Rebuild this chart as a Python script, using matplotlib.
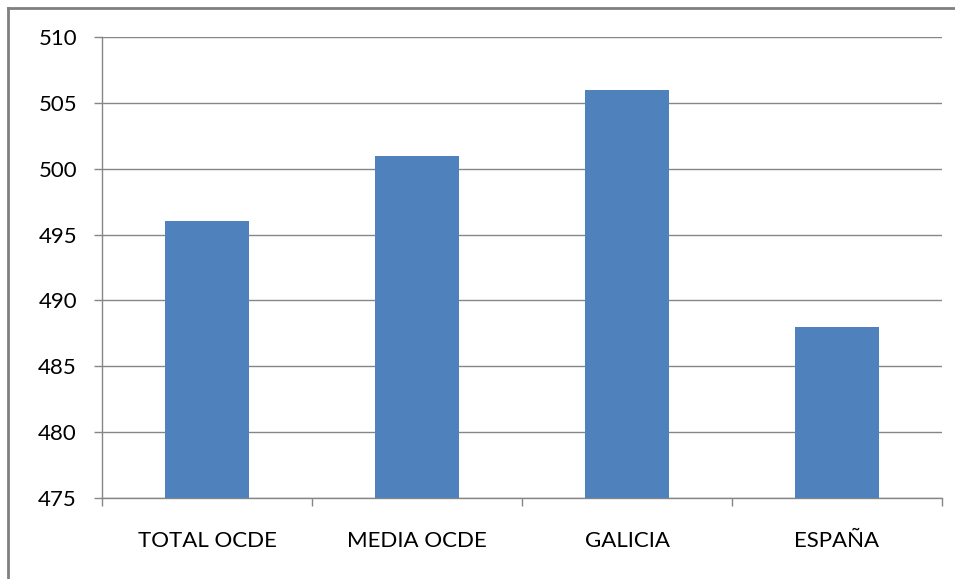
import matplotlib
matplotlib.use("Agg")
import matplotlib.pyplot as plt
from matplotlib.lines import Line2D

categories = ["TOTAL OCDE", "MEDIA OCDE", "GALICIA", "ESPAÑA"]
values = [496, 501, 506, 488]
yticks = [475, 480, 485, 490, 495, 500, 505, 510]

plt.rcParams['font.family'] = ['Lato', 'DejaVu Sans']

W, H = 955, 579
fig = plt.figure(figsize=(W / 100, H / 100), dpi=100)
ax = fig.add_axes([102 / W, 1 - 498 / H, (942 - 102) / W, (498 - 37) / H])

bar_color = "#4F81BD"
grid_color = "#868686"

x = list(range(len(categories)))
ax.bar(x, [v - 475 for v in values], bottom=475, width=0.4, color=bar_color, zorder=3)

ax.set_xlim(-0.5, len(categories) - 0.5)
ax.set_ylim(475, 510)
ax.set_yticks(yticks)
ax.set_yticklabels([str(t) for t in yticks], fontsize=16)
ax.yaxis.grid(True, color=grid_color, linewidth=1)
ax.set_axisbelow(True)

ax.set_xticks([i - 0.5 for i in range(len(categories) + 1)])
ax.set_xticklabels([])
ax.set_xticks(x, minor=True)
ax.set_xticklabels(categories, minor=True, fontsize=16)
ax.tick_params(axis='x', which='minor', length=0, pad=24)
ax.tick_params(axis='x', which='major', length=6, color=grid_color, width=1)
ax.tick_params(axis='y', length=6, color=grid_color, width=1, pad=12)

for s in ["top", "right"]:
    ax.spines[s].set_visible(False)
for s in ["left", "bottom"]:
    ax.spines[s].set_color(grid_color)
    ax.spines[s].set_linewidth(1)

# outer chart border (top and left visible)
fig.add_artist(Line2D([8 / W, 8 / W], [0, 1 - 7.5 / H], transform=fig.transFigure,
                      color="#808080", linewidth=2))
fig.add_artist(Line2D([8 / W, 1], [1 - 7.5 / H, 1 - 7.5 / H], transform=fig.transFigure,
                      color="#808080", linewidth=2))

fig.savefig("out.png", dpi=100, facecolor="white")
